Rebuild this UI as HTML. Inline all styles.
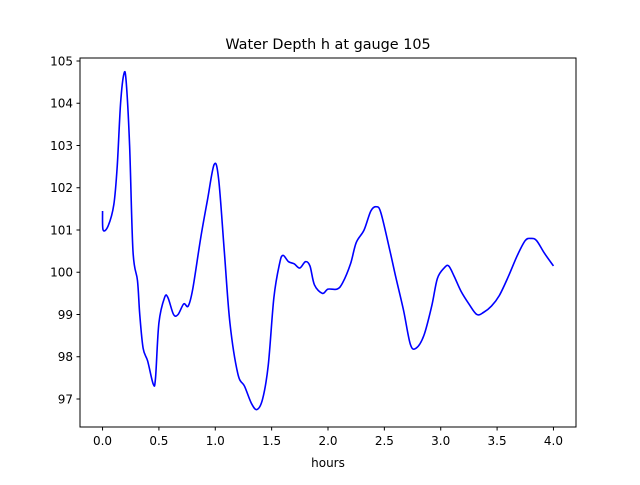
<!DOCTYPE html>
<html><head><meta charset="utf-8"><style>
body{margin:0;background:#fff}
svg text{font-family:"DejaVu Sans","Liberation Sans",sans-serif;fill:#000}
</style></head><body>
<svg id="c" width="640" height="480" xmlns="http://www.w3.org/2000/svg">
<rect width="640" height="480" fill="#fff"/>
<text x="328" y="49" font-size="14.4" text-anchor="middle">Water Depth h at gauge 105</text>
<g id="ax"></g>
<path id="line" fill="none" stroke="#0000ff" stroke-width="1.6" stroke-linejoin="round"/>
<rect x="80" y="58" width="496" height="369" fill="none" stroke="#000" stroke-width="1"/>
<text x="328" y="467" font-size="12" text-anchor="middle">hours</text>
</svg>
<script>
const times=[0.0,0.005,0.05,0.1,0.13,0.16,0.19,0.21,0.24,0.27,0.31,0.33,0.36,0.40,0.45,0.47,0.50,0.55,0.58,0.63,0.67,0.72,0.76,0.80,0.87,0.93,0.99,1.03,1.08,1.13,1.20,1.26,1.32,1.37,1.42,1.47,1.52,1.57,1.60,1.65,1.70,1.75,1.80,1.84,1.88,1.95,2.0,2.08,2.13,2.2,2.25,2.32,2.38,2.43,2.47,2.55,2.60,2.67,2.73,2.78,2.85,2.92,2.97,3.03,3.07,3.12,3.18,3.25,3.32,3.38,3.45,3.52,3.60,3.68,3.75,3.80,3.85,3.92,4.0];
const depth=[101.45,101.0,101.1,101.6,102.5,104.0,104.7,104.5,103.0,100.5,99.8,99.0,98.2,97.9,97.35,97.5,98.8,99.4,99.4,99.0,99.0,99.25,99.2,99.6,100.8,101.7,102.55,102.2,100.5,98.8,97.6,97.3,96.9,96.75,97.0,97.8,99.4,100.2,100.4,100.25,100.2,100.1,100.25,100.15,99.7,99.5,99.6,99.6,99.75,100.2,100.7,101.0,101.45,101.55,101.4,100.5,99.9,99.1,98.3,98.2,98.5,99.2,99.85,100.1,100.15,99.9,99.55,99.25,99.0,99.05,99.2,99.45,99.9,100.4,100.75,100.8,100.75,100.45,100.15];
const xTicks=[0,0.5,1,1.5,2,2.5,3,3.5,4];
const xTickLabels=["0.0","0.5","1.0","1.5","2.0","2.5","3.0","3.5","4.0"];
const yTicks=[97,98,99,100,101,102,103,104,105];
const X=v=>80+(v+0.2)/4.4*496;
const Y=v=>427-(v-96.337)/(105.071-96.337)*369;
const ns="http://www.w3.org/2000/svg";
const ax=document.getElementById('ax');
function mk(t,a){const e=document.createElementNS(ns,t);for(const k in a)e.setAttribute(k,a[k]);ax.appendChild(e);return e;}
xTicks.forEach((v,i)=>{
 const l=mk('line',{x1:X(v),x2:X(v),y1:427,y2:430.5,stroke:'#000'});
 
 
 const t=mk('text',{x:X(v),y:445,'font-size':12,'text-anchor':'middle'});t.textContent=xTickLabels[i];
 
 
});
yTicks.forEach(v=>{
 const l=mk('line',{x1:76.5,x2:80,y1:Y(v),y2:Y(v),stroke:'#000'});
 
 
 const t=mk('text',{x:73,y:Y(v)+4.5,'font-size':12,'text-anchor':'end'});t.textContent=v;
 
 
});
const p=times.map((t,i)=>[X(t),Y(depth[i])]);
let d='M'+p[0][0]+','+p[0][1];
for(let i=0;i<p.length-1;i++){
 const p0=p[Math.max(i-1,0)],p1=p[i],p2=p[i+1],p3=p[Math.min(i+2,p.length-1)];
 const c1=[p1[0]+(p2[0]-p0[0])/6,p1[1]+(p2[1]-p0[1])/6];
 const c2=[p2[0]-(p3[0]-p1[0])/6,p2[1]-(p3[1]-p1[1])/6];
 d+=`C${c1[0]},${c1[1]} ${c2[0]},${c2[1]} ${p2[0]},${p2[1]}`;
}
document.getElementById('line').setAttribute('d',d);
</script>
</body></html>
